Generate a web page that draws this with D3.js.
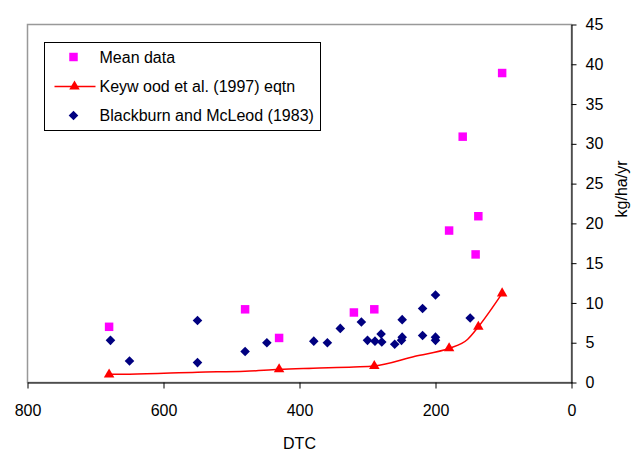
<!DOCTYPE html>
<html>
<head>
<meta charset="utf-8">
<script src="https://cdn.jsdelivr.net/npm/d3@7"></script>
<style>
  body { margin: 0; background: #fff; }
  text { font-family: Arial, "Liberation Sans", sans-serif; }
</style>
</head>
<body>
<div id="chart"></div>
<script>

// Mean data (magenta squares)
var meanDTC = [680, 480, 430, 320, 290, 180, 160, 141, 137, 102];
var meanVal = [7.0, 9.2, 5.6, 8.8, 9.2, 19.1, 30.9, 16.1, 20.9, 38.9];

// Keywood et al. (1997) eqtn - smoothed line and the points with markers
var keyLineDTC = [680, 650, 550, 480, 430, 380, 320, 290, 230, 180, 153, 137, 102];
var keyLineVal = [1.05, 1.05, 1.3, 1.4, 1.66, 1.8, 1.95, 2.07, 3.3, 4.3, 5.4, 7.0, 11.2];
var keyMarkDTC = [680, 430, 290, 180, 137, 102];
var keyMarkVal = [1.0, 1.66, 2.07, 4.3, 7.0, 11.2];

// Blackburn and McLeod (1983) (navy diamonds)
var bmDTC = [678, 650, 550, 550, 480, 448, 379, 359, 340, 309, 300, 289, 280, 279,
             260, 249, 250, 249, 219, 219, 200, 200, 200, 149];
var bmVal = [5.3, 2.7, 7.8, 2.5, 3.9, 5.0, 5.2, 5.0, 6.8, 7.6, 5.3, 5.2, 6.1, 5.1,
             4.8, 7.9, 5.3, 5.7, 9.3, 5.9, 11.0, 5.7, 5.3, 8.1];

var xTicks = [800, 600, 400, 200, 0];
var yTicks = [0, 5, 10, 15, 20, 25, 30, 35, 40, 45];

var width = 634, height = 450;

var svg = d3.select("#chart").append("svg")
    .attr("width", width)
    .attr("height", height);

var x = d3.scaleLinear().domain([800, 0]).range([27.5, 571.5]);
var y = d3.scaleLinear().domain([0, 45]).range([382.5, 24.5]);

// plot area border
svg.append("rect")
    .attr("x", x(800))
    .attr("y", y(45))
    .attr("width", x(0) - x(800))
    .attr("height", y(0) - y(45))
    .attr("fill", "none")
    .attr("stroke", "#999")
    .attr("stroke-width", 1.5);

var xAxis = svg.append("g")
    .attr("transform", "translate(0," + y(0) + ")")
    .call(d3.axisBottom(x).tickValues(xTicks).tickSize(6).tickSizeOuter(0).tickPadding(16));

var yAxis = svg.append("g")
    .attr("transform", "translate(" + x(0) + ",0)")
    .call(d3.axisRight(y).tickValues(yTicks).tickSize(5).tickSizeOuter(0).tickPadding(9));

svg.selectAll(".tick text")
    .style("font-size", "16px")
    .style("font-family", "Arial, 'Liberation Sans', sans-serif")
    .attr("fill", "#000");
svg.selectAll(".domain, .tick line").attr("stroke", "#000");

svg.append("text")
    .attr("x", (x(800) + x(0)) / 2)
    .attr("y", 448.5)
    .attr("text-anchor", "middle")
    .style("font-size", "16px")
    .text("DTC");

svg.append("text")
    .attr("transform", "translate(627,189) rotate(-90)")
    .attr("text-anchor", "middle")
    .style("font-size", "16px")
    .text("kg/ha/yr");

// Keywood line
var line = d3.line()
    .x(d => x(d[0]))
    .y(d => y(d[1]))
    .curve(d3.curveMonotoneX);

var keyLine = keyLineDTC.map((d, i) => [d, keyLineVal[i]]);

svg.append("path")
    .datum(keyLine)
    .attr("d", line)
    .attr("fill", "none")
    .attr("stroke", "#ff0000")
    .attr("stroke-width", 1.5);

var triangle = d3.symbol().type(d3.symbolTriangle).size(48);
var square = d3.symbol().type(d3.symbolSquare).size(72);
var diamond = d3.symbol().type(d3.symbolSquare).size(46);

svg.selectAll(".keyMark")
    .data(keyMarkDTC.map((d, i) => [d, keyMarkVal[i]]))
    .enter()
    .append("path")
    .attr("class", "keyMark")
    .attr("d", triangle)
    .attr("transform", d => "translate(" + x(d[0]) + "," + y(d[1]) + ")")
    .attr("fill", "#ff0000");

svg.selectAll(".bm")
    .data(bmDTC.map((d, i) => [d, bmVal[i]]))
    .enter()
    .append("path")
    .attr("class", "bm")
    .attr("d", diamond)
    .attr("transform", d => "translate(" + x(d[0]) + "," + y(d[1]) + ") rotate(45)")
    .attr("fill", "#000080");

svg.selectAll(".mean")
    .data(meanDTC.map((d, i) => [d, meanVal[i]]))
    .enter()
    .append("path")
    .attr("class", "mean")
    .attr("d", square)
    .attr("transform", d => "translate(" + x(d[0]) + "," + y(d[1]) + ")")
    .attr("fill", "#ff00ff");

// legend
var legend = svg.append("g");

legend.append("rect")
    .attr("x", 44.5)
    .attr("y", 42.5)
    .attr("width", 276)
    .attr("height", 88)
    .attr("fill", "#fff")
    .attr("stroke", "#000")
    .attr("stroke-width", 1);

var legendRows = [
    { label: "Mean data", y: 57 },
    { label: "Keyw ood et al. (1997) eqtn", y: 86.5 },
    { label: "Blackburn and McLeod (1983)", y: 115.5 }
];

legend.selectAll("text")
    .data(legendRows)
    .enter()
    .append("text")
    .attr("x", 99.5)
    .attr("y", d => d.y + 5.8)
    .style("font-size", "16px")
    .text(d => d.label);

legend.append("path")
    .attr("d", square)
    .attr("transform", "translate(73.5," + legendRows[0].y + ")")
    .attr("fill", "#ff00ff");

legend.append("line")
    .attr("x1", 54.5).attr("x2", 95.5)
    .attr("y1", legendRows[1].y).attr("y2", legendRows[1].y)
    .attr("stroke", "#ff0000")
    .attr("stroke-width", 1.5);

legend.append("path")
    .attr("d", triangle)
    .attr("transform", "translate(74.5," + legendRows[1].y + ")")
    .attr("fill", "#ff0000");

legend.append("path")
    .attr("d", diamond)
    .attr("transform", "translate(73.5," + legendRows[2].y + ") rotate(45)")
    .attr("fill", "#000080");

</script>
</body>
</html>
